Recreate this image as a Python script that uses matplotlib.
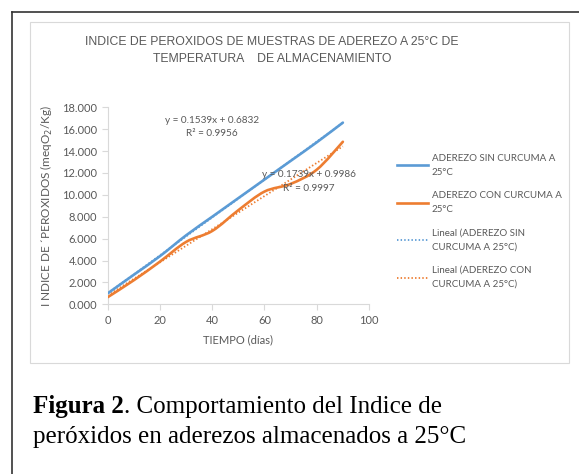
import numpy as np
import matplotlib
matplotlib.use("Agg")
import matplotlib.pyplot as plt
from matplotlib.path import Path
from matplotlib.patches import PathPatch, Rectangle
from matplotlib.lines import Line2D

# data (días, meqO2/Kg)
tiempo = [0, 10, 20, 30, 40, 50, 60, 70, 80, 90]
sin_curcuma = [1.0, 2.7, 4.4, 6.3, 8.0, 9.7, 11.4, 13.1, 14.8, 16.6]
con_curcuma = [0.65, 2.2, 3.9, 5.7, 6.7, 8.6, 10.3, 11.0, 12.3, 14.85]

labels = ["ADEREZO SIN CURCUMA A\n25°C", "ADEREZO CON CURCUMA A\n25°C",
          "Lineal (ADEREZO SIN\nCURCUMA A 25°C)", "Lineal (ADEREZO CON\nCURCUMA A 25°C)"]
eq_texts = ["y = 0.1539x + 0.6832\nR² = 0.9956", "y = 0.1739x + 0.9986\nR² = 0.9997"]

BLUE = "#5B9BD5"
ORANGE = "#ED7D31"
GREY = "#595959"
CHART_FONT = ["Lato", "DejaVu Sans"]


def smooth_path(x, y):
    # Excel style smoothed line: cubic bezier through every point
    x = np.asarray(x, float)
    y = np.asarray(y, float)
    pts = np.column_stack([x, y])
    verts = [pts[0]]
    codes = [Path.MOVETO]
    n = len(pts)
    for i in range(n - 1):
        p0 = pts[max(i - 1, 0)]
        p1 = pts[i]
        p2 = pts[i + 1]
        p3 = pts[min(i + 2, n - 1)]
        c1 = p1 + (p2 - p0) / 6.0
        c2 = p2 - (p3 - p1) / 6.0
        verts += [c1, c2, p2]
        codes += [Path.CURVE4] * 3
    return Path(verts, codes)


fig = plt.figure(figsize=(5.79, 4.74), dpi=100)

# outer document border and chart frame
fig.add_artist(Line2D([12 / 579, 1.0], [1 - 12 / 474] * 2, color="#333333", lw=1.2))
fig.add_artist(Line2D([12 / 579] * 2, [0, 1 - 12 / 474], color="#333333", lw=1.2))
fig.add_artist(Rectangle((30 / 579, 1 - 363 / 474), 539 / 579, 341 / 474,
                         fill=False, edgecolor="#D9D9D9", lw=0.8))

ax = fig.add_axes([107.7 / 579, 1 - 304.3 / 474, 261.3 / 579, 197 / 474])

for ys, col in [(sin_curcuma, BLUE), (con_curcuma, ORANGE)]:
    ax.add_patch(PathPatch(smooth_path(tiempo, ys), fill=False, edgecolor=col, lw=1.9,
                           capstyle="round", zorder=3))
    m, b = np.polyfit(tiempo, ys, 1)
    xs = np.array([tiempo[0], tiempo[-1]])
    ax.plot(xs, m * xs + b, color=col, lw=1.3, linestyle=(0, (0.8, 1.2)), zorder=2)

ax.set_xlim(0, 100)
ax.set_ylim(0, 18)
ax.set_xticks(range(0, 101, 20))
ax.set_yticks(range(0, 19, 2))
ax.set_yticklabels([f"{v:.3f}" for v in range(0, 19, 2)])
for s in ["top", "right"]:
    ax.spines[s].set_visible(False)
for s in ["left", "bottom"]:
    ax.spines[s].set_color("#D9D9D9")
ax.tick_params(colors="#D9D9D9", labelcolor=GREY, labelsize=8, length=4)
for lab in ax.get_xticklabels() + ax.get_yticklabels():
    lab.set_family(CHART_FONT)

ax.set_xlabel("TIEMPO (días)", fontsize=8, color=GREY, family=CHART_FONT, labelpad=6)
ax.set_ylabel("I NDICE DE ´PEROXIDOS (meqO$_2$/Kg)", fontsize=8.5, color=GREY,
              family=CHART_FONT, labelpad=5)

ax.text(40, 16.2, eq_texts[0], ha="center", va="center", fontsize=7.2, color=GREY,
        family=CHART_FONT, linespacing=1.7)
ax.text(77, 11.2, eq_texts[1], ha="center", va="center", fontsize=7.2, color=GREY,
        family=CHART_FONT, linespacing=1.7)

fig.text(272 / 579, 1 - 50.5 / 474, "INDICE DE PEROXIDOS DE MUESTRAS DE ADEREZO A 25°C DE\n"
         "TEMPERATURA    DE ALMACENAMIENTO", ha="center", va="center", fontsize=8.8,
         color=GREY, family="Liberation Sans", linespacing=1.5)

handles = [Line2D([], [], color=BLUE, lw=1.9), Line2D([], [], color=ORANGE, lw=1.9),
           Line2D([], [], color=BLUE, lw=1.3, linestyle=(0, (0.8, 1.2))),
           Line2D([], [], color=ORANGE, lw=1.3, linestyle=(0, (0.8, 1.2)))]
leg = fig.legend(handles, labels, loc="upper left", bbox_to_anchor=(388 / 579, 1 - 145 / 474),
                 frameon=False, handlelength=3.2, handletextpad=0.4,
                 labelspacing=1.45, prop={"family": CHART_FONT, "size": 7})
for t in leg.get_texts():
    t.set_color(GREY)
    t.set_linespacing(1.75)

# caption
fig.canvas.draw()
r = fig.canvas.get_renderer()
t1 = fig.text(33 / 579, 1 - 413 / 474, "Figura 2", fontsize=18, weight="bold",
              family="Liberation Serif", va="baseline")
bb = t1.get_window_extent(renderer=r)
fig.text(bb.x1 / fig.bbox.width, 1 - 413 / 474, ". Comportamiento del Indice de", fontsize=18,
         family="Liberation Serif", va="baseline")
fig.text(33 / 579, 1 - 443 / 474, "peróxidos en aderezos almacenados a 25°C", fontsize=18,
         family="Liberation Serif", va="baseline")

fig.savefig("out.png", dpi=100)
